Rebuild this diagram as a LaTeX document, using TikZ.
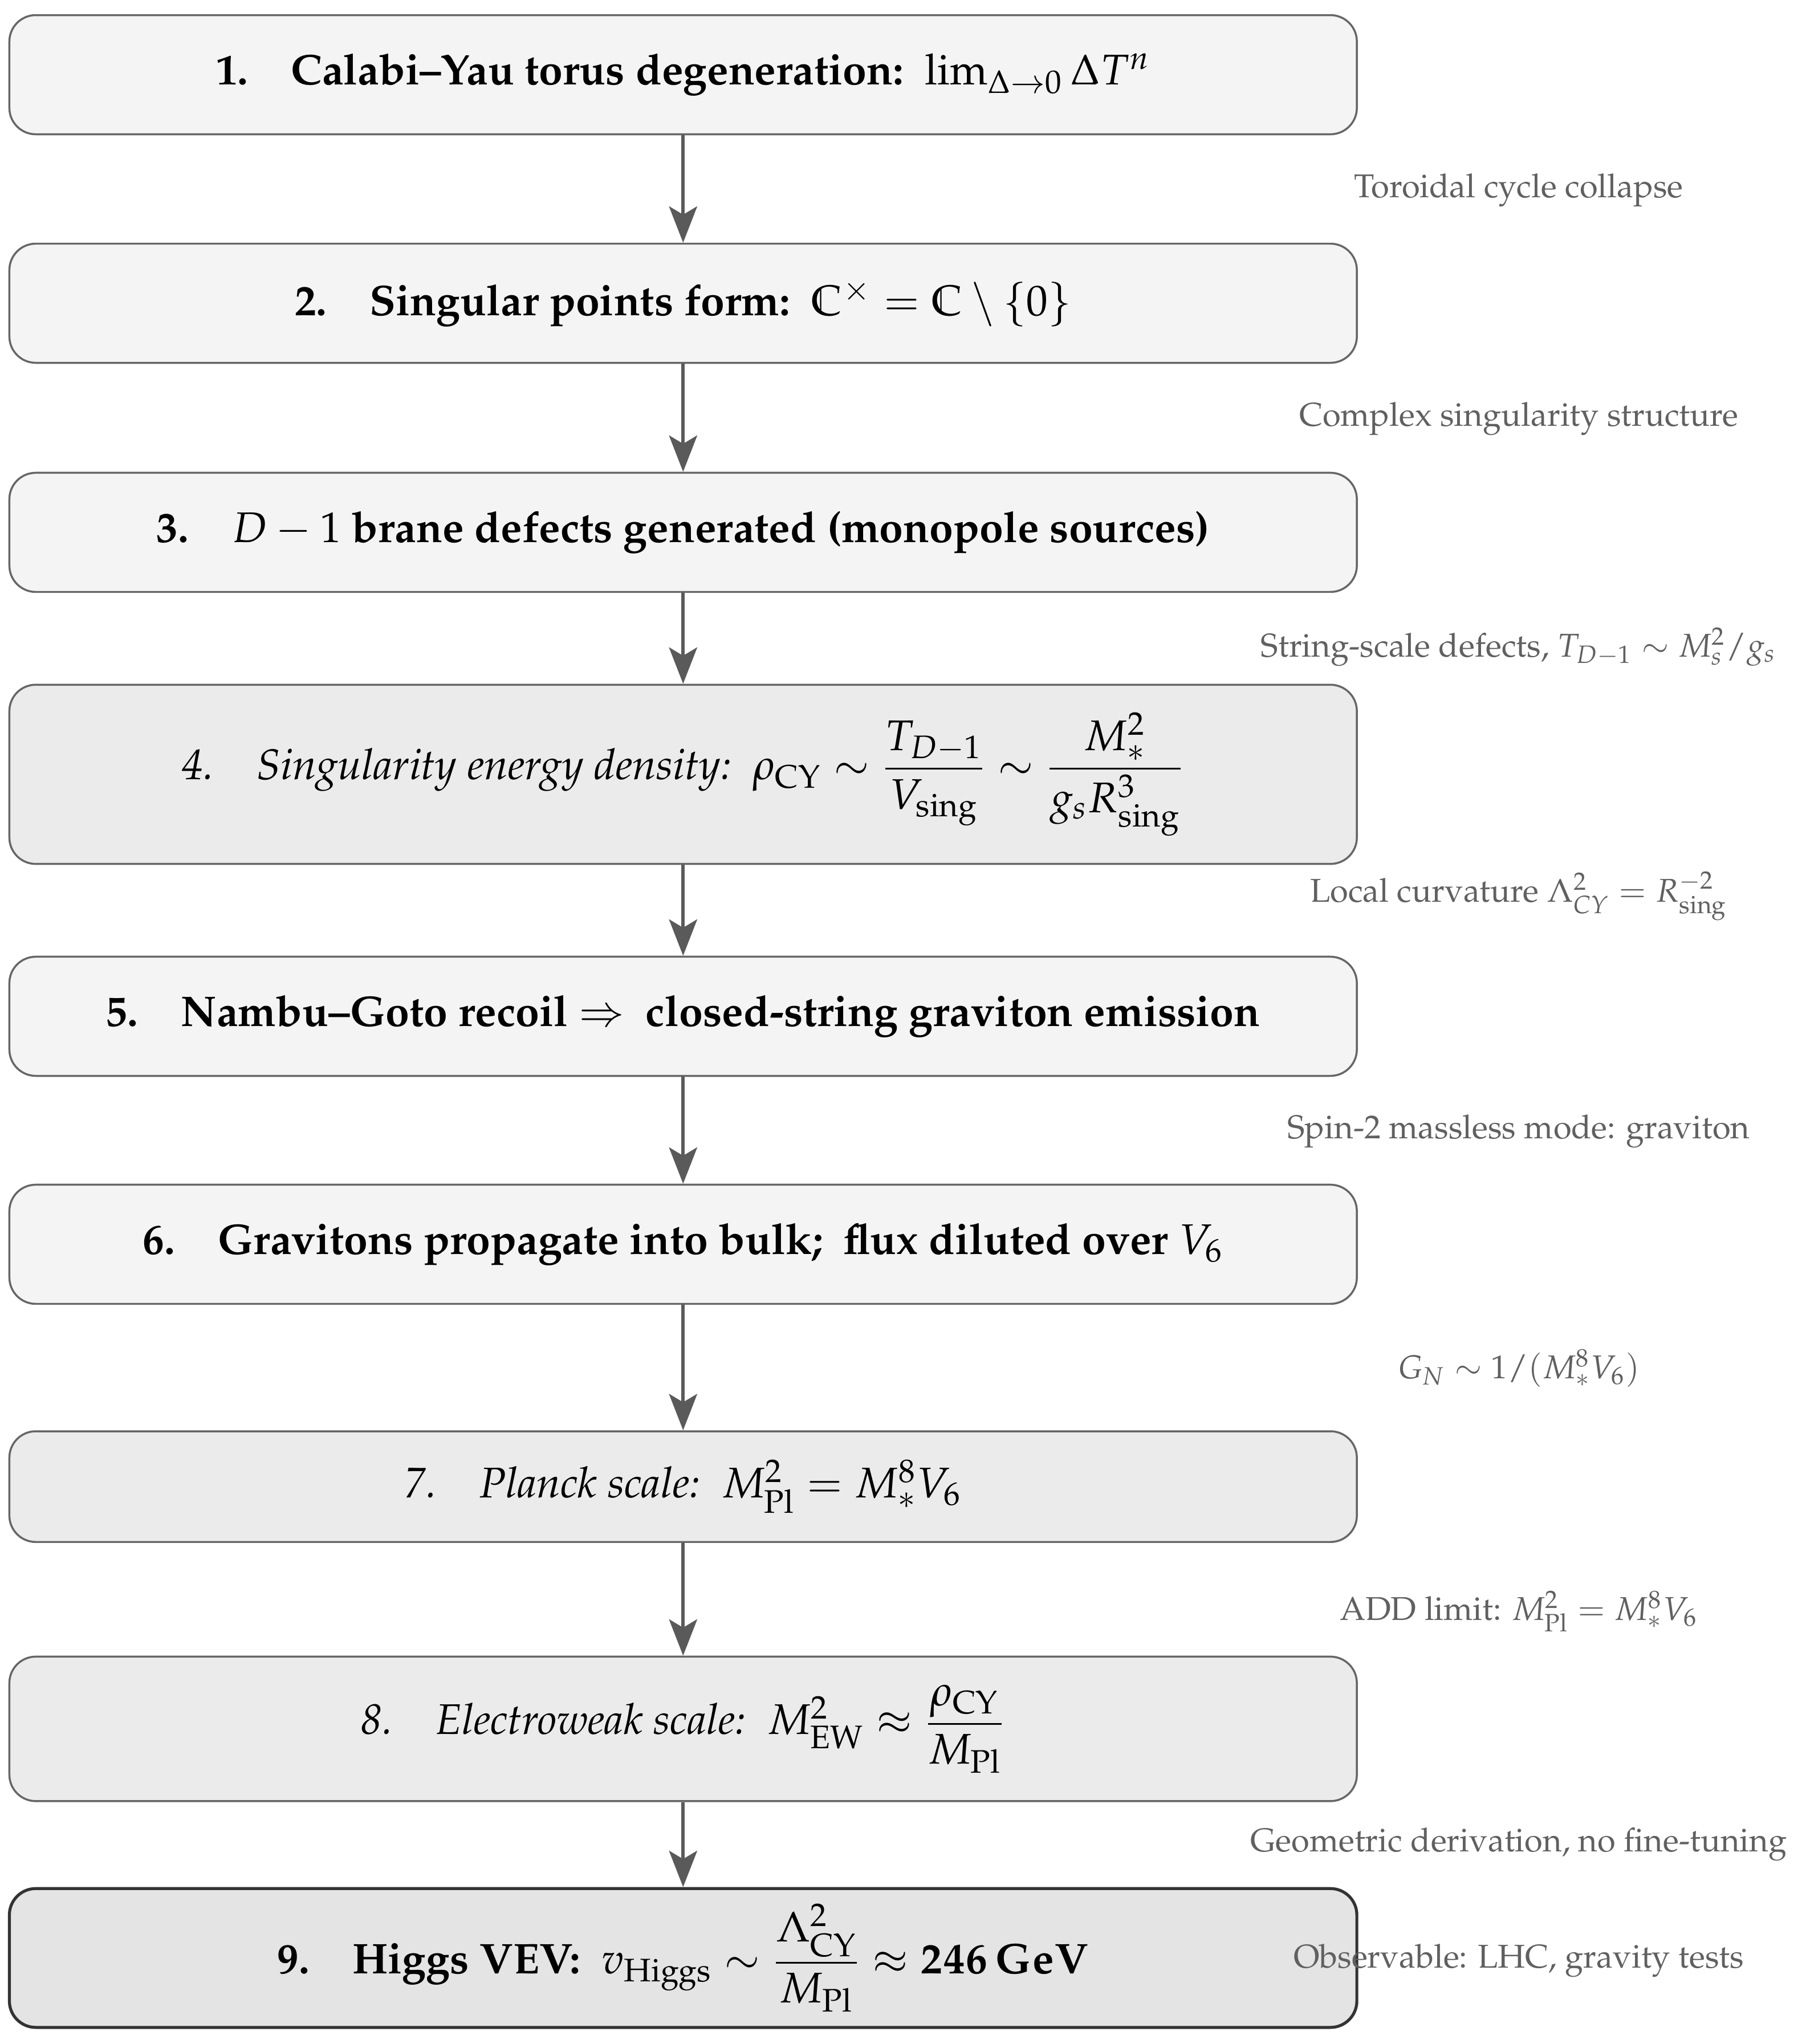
\documentclass[tikz,border=0pt]{standalone}
\usepackage[T1]{fontenc}
\usepackage{amsmath,amssymb}
\usepackage{mathpazo}
\usetikzlibrary{arrows.meta}

\definecolor{stepfill}{HTML}{F4F4F4}
\definecolor{stepfillmid}{HTML}{EBEBEB}
\definecolor{stepfilldark}{HTML}{E4E4E4}
\definecolor{stepline}{HTML}{666666}
\definecolor{flowgray}{HTML}{5A5A5A}
\definecolor{notegray}{HTML}{606060}

\newcommand{\stepsize}{\fontsize{13}{15.6}\selectfont}

\tikzset{
    stepbox/.style={draw=stepline, line width=0.6pt, fill=stepfill, rounded corners=8pt,
        minimum width=14.36cm, inner sep=2pt, font=\stepsize\bfseries},
    stepit/.style={stepbox, fill=stepfillmid, font=\stepsize\itshape},
    note/.style={text=notegray, font=\normalsize},
    flow/.style={draw=flowgray, line width=1.1pt, -{Stealth[length=11pt,width=8.5pt,inset=2.5pt]}}
}

\begin{document}
\begin{tikzpicture}
    \useasboundingbox (0, 0) rectangle (19.2, -21.786);

    % chain of steps
    \node[stepbox, minimum height=1.27cm] (s1) at (7.28, -0.796)
        {1.\quad Calabi--Yau torus degeneration:\ \ $\lim_{\Delta\to 0}\Delta T^n$};
    \node[stepbox, minimum height=1.27cm] (s2) at (7.28, -3.232)
        {2.\quad Singular points form:\ \ $\mathbb{C}^{\times}=\mathbb{C}\setminus\{0\}$};
    \node[stepbox, minimum height=1.27cm] (s3) at (7.28, -5.674)
        {3.\quad $D-1$ brane defects generated (monopole sources)};
    \node[stepit, minimum height=1.91cm] (s4) at (7.28, -8.253)
        {4.\quad Singularity energy density:\ \ $\rho_{\mathrm{CY}}\sim\dfrac{T_{D-1}}{V_{\mathrm{sing}}}\sim\dfrac{M_*^2}{g_sR_{\mathrm{sing}}^3}$};
    \node[stepbox, minimum height=1.27cm] (s5) at (7.28, -10.832)
        {5.\quad Nambu--Goto recoil $\Rightarrow$\ \ closed-string graviton emission};
    \node[stepbox, minimum height=1.27cm] (s6) at (7.28, -13.262)
        {6.\quad Gravitons propagate into bulk;\ \ flux diluted over $V_6$};
    \node[stepit, minimum height=1.18cm] (s7) at (7.28, -15.845)
        {7.\quad Planck scale:\ \ $M_{\mathrm{Pl}}^2=M_*^8V_6$};
    \node[stepit, minimum height=1.54cm] (s8) at (7.28, -18.427)
        {8.\quad Electroweak scale:\ \ $M_{\mathrm{EW}}^2\approx\dfrac{\rho_{\mathrm{CY}}}{M_{\mathrm{Pl}}}$};
    \node[stepbox, fill=stepfilldark, draw=black!80, line width=0.9pt, minimum height=1.48cm] (s9) at (7.28, -20.869)
        {9.\quad Higgs VEV:\ \ $v_{\mathrm{Higgs}}\sim\dfrac{\Lambda_{\mathrm{CY}}^2}{M_{\mathrm{Pl}}}\approx\mathbf{246\,GeV}$};

    \foreach \a/\b in {s1/s2, s2/s3, s3/s4, s4/s5, s5/s6, s6/s7, s7/s8, s8/s9} {
        \draw[flow] (\a) -- (\b);
    }

    % side notes
    \node[note] (n1) at (16.185, -2.025) {Toroidal cycle collapse};
    \node[note] (n2) at (16.185, -4.465) {Complex singularity structure};
    \node[note] (n3) at (16.185, -6.896) {String-scale defects, $T_{D-1}\sim M_s^2/g_s$};
    \node[note] (n4) at (16.185, -9.55) {Local curvature $\Lambda^2_{CY}=R^{-2}_{\mathrm{sing}}$};
    \node[note] (n5) at (16.185, -12.06) {Spin-2 massless mode: graviton};
    \node[note] (n6) at (16.185, -14.585) {$G_N\sim 1/(M_*^8V_6)$};
    \node[note] (n7) at (16.185, -17.175) {ADD limit: $M_{\mathrm{Pl}}^2=M_*^8V_6$};
    \node[note] (n8) at (16.185, -19.66) {Geometric derivation, no fine-tuning};
    \node[note] (n9) at (16.185, -20.9) {Observable: LHC, gravity tests};
\end{tikzpicture}
\end{document}
